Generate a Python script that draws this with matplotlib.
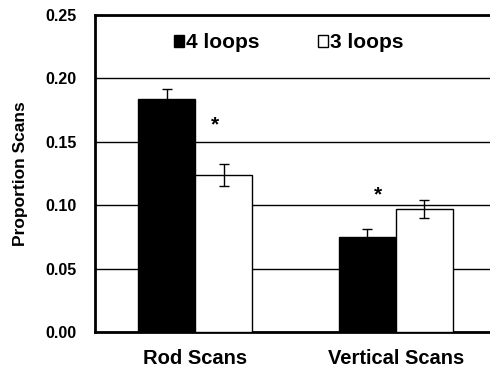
import numpy as np
import matplotlib.pyplot as plt

categories = ["Rod Scans", "Vertical Scans"]
series = ["4 loops", "3 loops"]
loops4 = [0.184, 0.075]
loops4_err = [0.008, 0.006]
loops3 = [0.124, 0.097]
loops3_err = [0.0087, 0.007]
# asterisks (x offset in category units, y in data units)
stars_x = [0.1, 0.91]
stars_y = [0.163, 0.108]

plt.rcParams['font.family'] = ['Liberation Sans', 'DejaVu Sans']
plt.rcParams['font.weight'] = 'bold'

fig = plt.figure(figsize=(4.9, 3.71), dpi=100)
ax = fig.add_axes([95/490, 1 - 332/371, 401/490, 317/371])

x = np.arange(len(categories))
w = 0.285
ax.bar(x - w/2, loops4, w, color='black', edgecolor='black', linewidth=1,
       label=series[0], zorder=3)
ax.bar(x + w/2, loops3, w, color='white', edgecolor='black', linewidth=1,
       label=series[1], zorder=3)
ax.errorbar(x - w/2, loops4, yerr=loops4_err, fmt='none', ecolor='black',
            elinewidth=1, capsize=3.5, capthick=1, zorder=4)
ax.errorbar(x + w/2, loops3, yerr=loops3_err, fmt='none', ecolor='black',
            elinewidth=1, capsize=3.5, capthick=1, zorder=4)

for sx, sy in zip(stars_x, stars_y):
    ax.text(sx, sy, "*", ha='center', va='center', fontsize=15, fontweight='bold')

ax.set_xlim(-0.5, 1.5)
ax.set_ylim(0, 0.25)
ax.set_yticks([0, 0.05, 0.10, 0.15, 0.20, 0.25])
ax.set_yticklabels(["0.00", "0.05", "0.10", "0.15", "0.20", "0.25"])
ax.set_xticks(x)
ax.set_xticklabels(categories)
ax.tick_params(axis='both', length=0)
ax.tick_params(axis='x', pad=12, labelsize=14.5)
ax.tick_params(axis='y', pad=13, labelsize=11.5)
ax.yaxis.grid(True, color='black', linewidth=1)
ax.set_axisbelow(True)
ax.spines['right'].set_visible(False)
for s in ['left', 'bottom', 'top']:
    ax.spines[s].set_linewidth(2)
ax.set_ylabel("Proportion Scans", fontsize=12.5, fontweight='bold')
ax.yaxis.set_label_coords(-0.167, 0.5)

ax.legend(loc='center', bbox_to_anchor=(0.484, 0.912), ncol=2, frameon=False,
          handlelength=0.48, handleheight=0.48, handletextpad=0.1, columnspacing=2.8,
          borderpad=0, prop={'size': 15, 'weight': 'bold'})

fig.savefig("out.png", dpi=100)
